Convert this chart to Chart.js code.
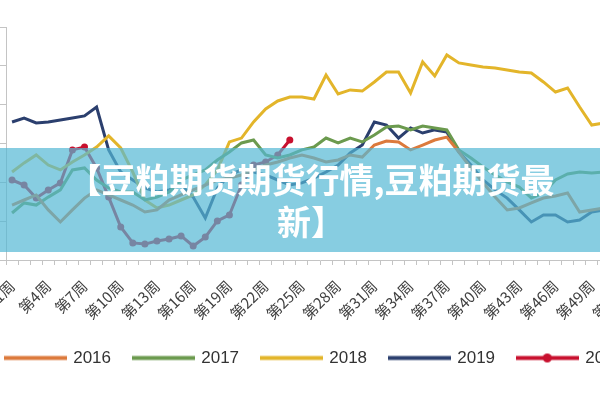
<!DOCTYPE html>
<html><head><meta charset="utf-8">
<script src="https://cdn.jsdelivr.net/npm/chart.js@4/dist/chart.umd.min.js"></script>
<style>
html,body{margin:0;padding:0;background:#fff;width:600px;height:400px;overflow:hidden;position:relative;}
#c{position:absolute;left:-17px;top:0;}
#band{position:absolute;left:0;top:148px;width:600px;height:104px;background:rgba(84,184,212,0.7);}
#title{position:absolute;left:65px;top:10px;width:492px;text-align:center;color:#fff;font:700 34px/42px "Noto Sans CJK SC",sans-serif;}
</style></head><body>
<canvas id="c" width="700" height="400"></canvas>
<div id="band"><div id="title">【豆粕期货期货行情,豆粕期货最新】</div></div>
<script>
const weeks = ["第1周","第2周","第3周","第4周","第5周","第6周","第7周","第8周","第9周","第10周",
"第11周","第12周","第13周","第14周","第15周","第16周","第17周","第18周","第19周","第20周",
"第21周","第22周","第23周","第24周","第25周","第26周","第27周","第28周","第29周","第30周",
"第31周","第32周","第33周","第34周","第35周","第36周","第37周","第38周","第39周","第40周",
"第41周","第42周","第43周","第44周","第45周","第46周","第47周","第48周","第49周","第50周",
"第51周","第52周"];
const s2016 = [2683,2709,2735,2658,2596,2658,2719,2761,2735,2709,2683,2647,2658,2709,2735,2761,2786,2812,2822,2838,2864,2889,2905,2925,2941,2925,2905,2915,2941,2930,2992,3013,3008,2967,2992,3018,3033,2956,2874,2797,2724,2658,2668,2694,2719,2730,2745,2647,2658,2668,2683,2694];
const s2017 = [2642,2694,2683,2724,2761,2864,2874,2812,2771,2750,2750,2709,2724,2750,2812,2838,2864,2915,2956,3003,3018,2941,2925,2941,2967,2982,3028,3003,3028,3008,3044,3085,3090,3070,3090,3080,3070,2967,2925,2879,2838,2802,2776,2719,2745,2812,2843,2853,2848,2853,2853,2864];
const s2018 = [2853,2900,2941,2889,2864,2905,2941,2982,3039,2977,2853,2709,2668,2683,2709,2735,2786,2864,3008,3028,3111,3178,3219,3239,3239,3229,3353,3255,3276,3270,3317,3368,3368,3260,3420,3348,3456,3415,3404,3394,3389,3379,3368,3363,3317,3265,3286,3188,3095,3106,3121,3131];
const s2019 = [3111,3131,3106,3111,3121,3131,3142,3188,2967,2853,2812,2771,2750,2761,2786,2724,2616,2771,2838,2864,2853,2838,2812,2786,2797,2822,2853,2889,2951,2992,3111,3095,3028,3080,3054,3070,3059,2956,2889,2812,2761,2719,2658,2596,2632,2632,2596,2606,2647,2658,2668,2683];
const s2020 = [2812,2786,2719,2761,2797,2967,2982,2874,2724,2570,2488,2482,2498,2508,2524,2472,2518,2601,2632,2786,2889,2905,2941,3018];
const seriesNames = ["2016","2017","2018","2019","2020"];
const colors = ["#dc7a3c","#6b9a4e","#e3b52a","#2b3f6e","#c8102e"];

function mk(color, dot){
  const c=document.createElement('canvas'); c.width=63; c.height=17;
  const g=c.getContext('2d'); g.strokeStyle=color; g.lineWidth=4;
  g.beginPath(); g.moveTo(0,8.5); g.lineTo(63,8.5); g.stroke();
  if(dot){g.fillStyle=color; g.beginPath(); g.arc(31.5,8.5,4.5,0,Math.PI*2); g.fill();}
  return c;
}
const legendImgs = colors.map((c,i)=>mk(c, i===4));
const allData = [s2016,s2017,s2018,s2019,s2020];
const datasets = allData.map((d,i)=>({
  label: seriesNames[i], data: d, borderColor: colors[i], backgroundColor: colors[i],
  borderWidth: 3, pointRadius: i===4?3.5:0, pointBorderWidth:0, pointBackgroundColor: colors[i], tension:0, fill:false
}));
const font = '"Noto Sans CJK SC", sans-serif';
new Chart(document.getElementById('c'), {
  type:'line',
  data:{labels:weeks, datasets},
  options:{
    responsive:false, animation:false,
    layout:{padding:{top:27,right:0,bottom:23.5,left:0}},
    scales:{
      x:{offset:true,
        grid:{offset:true,drawOnChartArea:false,drawTicks:true,tickLength:5,color:'#c4c4c4'},
        border:{color:'#c4c4c4'},
        ticks:{autoSkip:false,minRotation:45,maxRotation:45,padding:12,color:'#404040',font:{size:15,family:font},
          callback:function(v,i){return i%3===0?this.getLabelForValue(v):'';}},
        afterFit:s=>{s.height=66.8;s.paddingLeft=0;s.paddingRight=0;}
      },
      y:{min:2400,max:3600,
        ticks:{display:false,stepSize:200},
        grid:{drawOnChartArea:false,drawTicks:true,tickLength:6,color:'#c4c4c4'},
        border:{color:'#c4c4c4'},
        afterFit:s=>{s.width=23;}
      },
      yr:{position:'right',min:0,max:1,
        ticks:{display:false},grid:{display:false},border:{display:false},
        afterFit:s=>{s.width=49;}
      }
    },
    plugins:{
      tooltip:{enabled:false},
      legend:{position:'bottom',align:'start',
        labels:{usePointStyle:true,pointStyleWidth:59,padding:22.7,color:'#333',
          font:{size:17,family:'"Liberation Sans", Arial, sans-serif'},
          generateLabels:(chart)=>{
            const items=Chart.defaults.plugins.legend.labels.generateLabels(chart);
            items.forEach((it)=>{it.pointStyle=legendImgs[it.datasetIndex];});
            return items;
          }}
      }
    }
  }
});
</script>
</body></html>
